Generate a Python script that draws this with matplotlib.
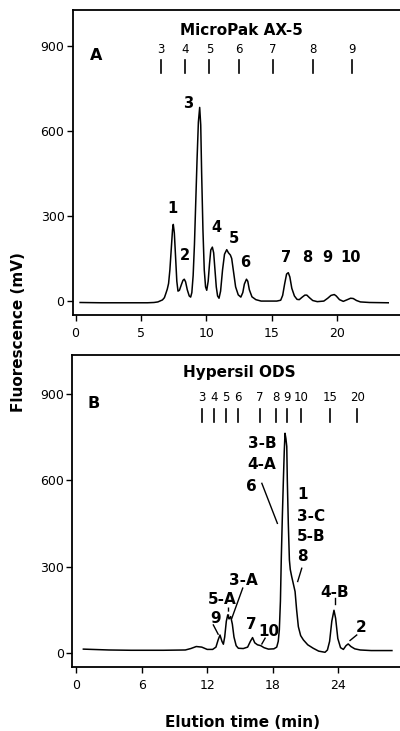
import matplotlib
matplotlib.use('Agg')
import matplotlib.pyplot as plt

plt.rcParams['font.family'] = ['DejaVu Sans']

# panel A - MicroPak AX-5 trace (time in min, fluorescence in mV)
a_time = [0.35, 2.0, 4.0, 5.5, 6.0, 6.3, 6.5, 6.65, 6.8, 6.92, 7.02, 7.12,
          7.22, 7.32, 7.42, 7.48, 7.56, 7.65, 7.75, 7.84,
          7.95, 8.1, 8.22, 8.32, 8.42, 8.55, 8.7, 8.81,
          8.9, 9.0, 9.1, 9.2, 9.3, 9.4, 9.5, 9.58, 9.65, 9.75, 9.85, 9.95, 10.04,
          10.15, 10.25, 10.35, 10.47, 10.57, 10.67, 10.77, 10.87, 10.98,
          11.1, 11.25, 11.4, 11.57, 11.7, 11.85, 11.95, 12.1, 12.25, 12.45, 12.65,
          12.8, 12.92, 13.08, 13.18, 13.3, 13.5, 13.8, 14.2,
          14.8, 15.4, 15.7, 15.85, 16.0, 16.15, 16.28, 16.4, 16.55, 16.75, 16.95, 17.12,
          17.35, 17.55, 17.7, 17.9, 18.15, 18.5, 19.0,
          19.3, 19.55, 19.8, 19.95, 20.2, 20.49,
          20.8, 21.05, 21.25, 21.5, 21.8, 22.5, 23.93]
a_signal = [-5, -6, -6, -6, -5, -3, 1, 4, 12, 28, 42, 62,
            110, 180, 250, 270, 240, 160, 70, 35,
            38, 58, 73, 77, 68, 40, 18, 14,
            30, 90, 200, 350, 500, 630, 682, 620, 450, 250, 110, 50, 38,
            70, 130, 180, 190, 170, 110, 50, 18, 10,
            35, 110, 165, 181, 170, 162, 150, 100, 50, 22, 14,
            30, 60, 77, 70, 40, 15, 5, 0,
            0, 0, 3, 20, 60, 95, 100, 85, 45, 18, 6, 5,
            14, 21, 21, 12, 2, -2, 0,
            10, 20, 23, 18, 5, -1,
            5, 10, 9, 2, -3, -5, -6]

# panel B - Hypersil ODS trace
b_time = [0.67, 3.0, 5.0, 8.0, 10.0, 10.5, 11.0, 11.5, 12.0, 12.5,
          12.8, 13.0, 13.17, 13.35, 13.48, 13.6, 13.75, 13.88, 14.0, 14.15,
          14.3, 14.45, 14.65, 14.85, 15.3, 15.7, 15.95, 16.15, 16.35, 16.6,
          16.9, 17.2, 17.6, 18.1, 18.36, 18.5, 18.6, 18.7, 18.78, 18.88,
          18.97, 19.05, 19.12, 19.2, 19.28, 19.33, 19.42, 19.52, 19.6, 19.73,
          19.88, 20.04, 20.18, 20.34, 20.55, 20.8, 21.2, 21.7, 22.2, 22.78,
          23.0, 23.2, 23.4, 23.6, 23.75, 23.95, 24.2, 24.46, 24.7, 24.9,
          25.15, 25.5, 26.0, 27.0, 28.9]
b_signal = [13, 10, 9, 9, 10, 15, 22, 20, 12, 12,
            20, 45, 62, 40, 30, 55, 110, 132, 118, 126,
            100, 55, 25, 16, 15, 20, 40, 53, 35, 28,
            25, 18, 13, 14, 20, 40, 80, 180, 330, 480,
            600, 700, 763, 745, 717, 600, 450, 323, 290, 265,
            240, 213, 150, 91, 60, 45, 28, 16, 6, 2,
            10, 40, 110, 148, 120, 50, 18, 12, 25, 31,
            22, 14, 10, 8, 8]

# reference markers above the traces
a_mark_names = ['3', '4', '5', '6', '7', '8', '9']
a_mark_times = [6.52, 8.38, 10.24, 12.53, 15.09, 18.15, 21.13]
b_mark_names = ['3', '4', '5', '6', '7', '8', '9', '10', '15', '20']
b_mark_times = [11.5, 12.63, 13.72, 14.79, 16.83, 18.3, 19.28, 20.59, 23.24, 25.74]

# peak labels
a_peak_names = ['1', '2', '3', '4', '5', '6', '7', '8', '9', '10']
a_peak_times = [7.4, 8.35, 8.6, 10.8, 12.1, 13.0, 16.1, 17.7, 19.25, 21.05]
a_peak_levels = [326, 161, 695, 260, 221, 137, 154, 154, 154, 154]


def setup_axes(ax, xlim, xticks):
    ax.set_xlim(*xlim)
    ax.set_ylim(-49, 1025)
    ax.set_xticks(xticks)
    ax.set_yticks([0, 300, 600, 900])
    ax.spines['right'].set_visible(False)
    for s in ['left', 'bottom', 'top']:
        ax.spines[s].set_linewidth(1.3)
    ax.tick_params(direction='out', length=4, width=1, labelsize=9)
    ax.tick_params(axis='x', pad=5)
    ax.tick_params(axis='y', pad=2)


def draw_markers(ax, names, times):
    for name, t in zip(names, times):
        ax.text(t, 887, name, ha='center', va='center', fontsize=8.5)
        ax.plot([t, t], [803, 849], color='black', lw=1.2)


def main():
    fig = plt.figure(figsize=(4.0, 7.31), dpi=100)
    ax1 = fig.add_axes([0.182, 0.5691, 0.818, 0.4172])
    ax2 = fig.add_axes([0.18, 0.0876, 0.82, 0.4268])

    # panel A
    setup_axes(ax1, (-0.21, 24.83), [0, 5, 10, 15, 20])
    ax1.plot(a_time, a_signal, color='black', lw=1.1)
    draw_markers(ax1, a_mark_names, a_mark_times)
    for name, t, v in zip(a_peak_names, a_peak_times, a_peak_levels):
        ax1.text(t, v, name, ha='center', va='center', fontsize=10.5, fontweight='bold')
    ax1.text(12.7, 954, 'MicroPak AX-5', ha='center', va='center', fontsize=11, fontweight='bold')
    ax1.text(1.6, 864, 'A', ha='center', va='center', fontsize=11.5, fontweight='bold')

    # panel B
    setup_axes(ax2, (-0.37, 29.64), [0, 6, 12, 18, 24])
    ax2.set_ylim(-49, 1035)
    ax2.plot(b_time, b_signal, color='black', lw=1.1)
    draw_markers(ax2, b_mark_names, b_mark_times)
    ax2.text(14.9, 973, 'Hypersil ODS', ha='center', va='center', fontsize=11, fontweight='bold')
    ax2.text(1.6, 867, 'B', ha='center', va='center', fontsize=11.5, fontweight='bold')

    lab = dict(fontsize=11, fontweight='bold', va='center')
    ax2.text(17.0, 728, '3-B', ha='center', **lab)
    ax2.text(17.0, 653, '4-A', ha='center', **lab)
    ax2.text(16.07, 577, '6', ha='center', **lab)
    ax2.plot([17.0, 18.42], [589, 450], color='black', lw=1)
    ax2.text(20.2, 549, '1', ha='left', **lab)
    ax2.text(20.2, 473, '3-C', ha='left', **lab)
    ax2.text(20.2, 404, '5-B', ha='left', **lab)
    ax2.text(20.2, 334, '8', ha='left', **lab)
    ax2.plot([20.65, 20.28], [294, 248], color='black', lw=1)
    ax2.text(23.7, 211, '4-B', ha='center', **lab)
    ax2.plot([23.7, 23.7], [190, 170], color='black', lw=1)
    ax2.text(26.07, 89, '2', ha='center', **lab)
    ax2.plot([25.68, 25.07], [62, 43], color='black', lw=1)
    ax2.text(15.3, 251, '3-A', ha='center', **lab)
    ax2.plot([15.25, 14.25], [225, 120], color='black', lw=1)
    ax2.text(13.33, 184, '5-A', ha='center', **lab)
    ax2.plot([13.88, 13.88], [161, 120], color='black', lw=1, ls=(0, (3, 2)))
    ax2.text(12.72, 118, '9', ha='center', **lab)
    ax2.plot([12.56, 13.0], [97, 65], color='black', lw=1)
    ax2.text(16.0, 97, '7', ha='center', **lab)
    ax2.text(17.6, 74, '10', ha='center', **lab)
    ax2.plot([17.3, 17.0], [51, 31], color='black', lw=1)

    fig.text(0.047, 0.546, 'Fluorescence (mV)', rotation=90, ha='center', va='center',
             fontsize=11, fontweight='bold')
    fig.text(0.606, 0.012, 'Elution time (min)', ha='center', va='center',
             fontsize=11, fontweight='bold')

    plt.savefig('out.png', dpi=100)


if __name__ == '__main__':
    main()
